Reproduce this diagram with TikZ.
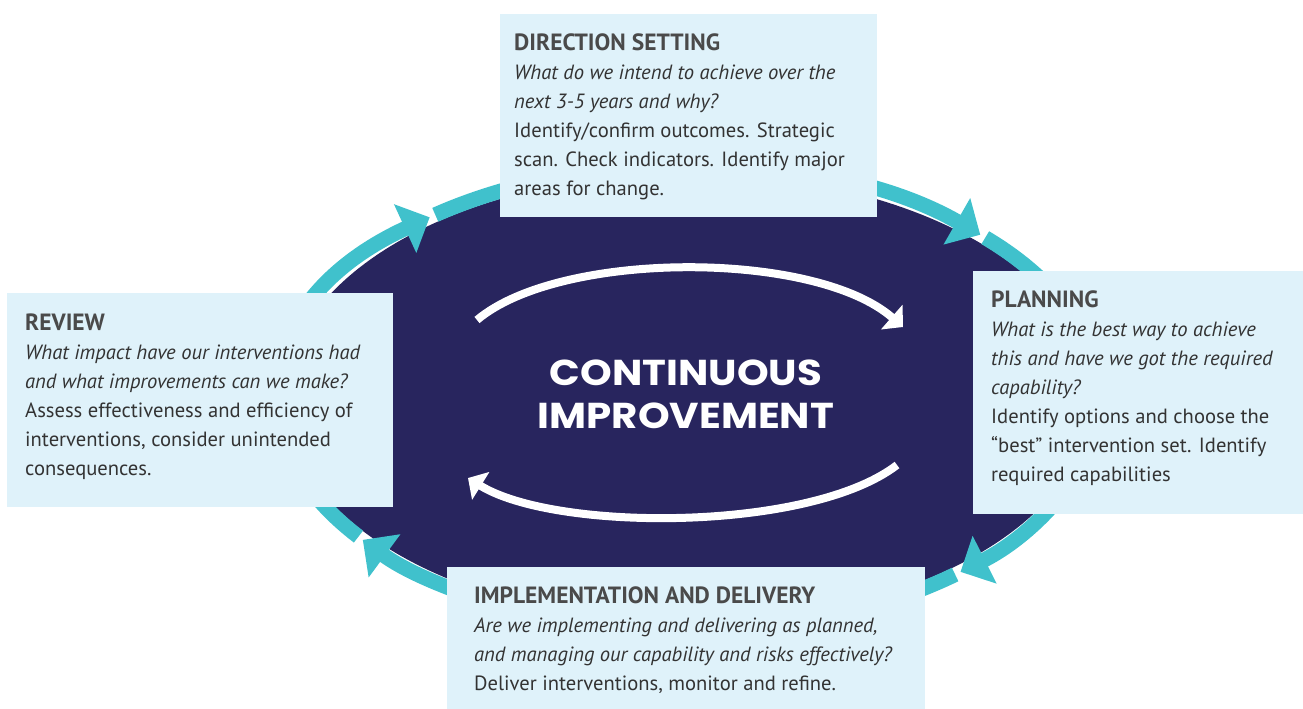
\documentclass[tikz,border=0pt]{standalone}
\usepackage{fontspec}
\setmainfont{PT Sans}
\newfontfamily\titlefont{Poppins}[FakeStretch=1.12]
\usetikzlibrary{arrows.meta,positioning}
\definecolor{navy}{RGB}{40,37,94}
\definecolor{ringcyan}{RGB}{64,193,204}
\definecolor{boxblue}{RGB}{223,242,250}
\definecolor{bodygray}{RGB}{51,51,51}
\definecolor{headgray}{RGB}{74,74,74}
\newcommand{\boxhead}[1]{{\fontsize{23.5}{29}\selectfont\bfseries\color{headgray}#1}}

\begin{document}
\begin{tikzpicture}[x=1pt,y=-1pt,
        band/.style={ringcyan,line width=15pt,-{Triangle[length=27pt,width=52pt]}},
        turn/.style={white,line width=8pt,-{Triangle[length=15pt,width=32pt]}},
        panel/.style={fill=boxblue,anchor=north west,inner sep=0pt},
        paneltext/.style={inner sep=0pt,align=left,text=bodygray,
            font=\fontsize{20.6}{29}\selectfont}]

    \useasboundingbox (0,0) rectangle (1303,709);

    \def\cx{688} \def\cy{398} \def\ra{410.5} \def\rb{232.5}

    \fill[navy] (\cx,\cy) ellipse [x radius=403pt, y radius=225pt];

    \foreach \ts/\te in {143.4/231, 232/315.4, 316.4/408.4, 49.4/142.4}
        \draw[band] ({\cx+\ra*cos(\ts)},{\cy+\rb*sin(\ts)})
            arc[start angle=-\ts, end angle=-\te, x radius=\ra pt, y radius=\rb pt];

    \coordinate (topstart) at (477,320);
    \coordinate (topend) at (903,327);
    \coordinate (botstart) at (897,465);
    \coordinate (botend) at (468,478);
    \draw[turn] (topstart) .. controls (560,250) and (815,250) .. (topend);
    \draw[turn] (botstart) .. controls (810,532) and (555,532) .. (botend);

    \node[white,align=center,font=\titlefont\fontsize{36}{43}\selectfont\bfseries]
        (title) at (686,394) {CONTINUOUS\\IMPROVEMENT};

    \node[panel,minimum width=377pt,minimum height=203pt] (dirbox) at (500,14) {};
    \node[panel,minimum width=386pt,minimum height=214pt] (revbox) at (7,293) {};
    \node[panel,minimum width=330pt,minimum height=243pt] (planbox) at (973,271) {};
    \node[panel,minimum width=478pt,minimum height=142pt] (impbox) at (447,567) {};

    \node[paneltext,below right=20pt and 14pt of dirbox.north west] (dirtxt)
        {\boxhead{DIRECTION SETTING}\\
         \textit{What do we intend to achieve over the}\\
         \textit{next 3-5 years and why?}\\
         Identify/confirm outcomes. Strategic\\
         scan. Check indicators. Identify major\\
         areas for change.};
    \node[paneltext,below right=21pt and 18pt of revbox.north west] (revtxt)
        {\boxhead{REVIEW}\\
         \textit{What impact have our interventions had}\\
         \textit{and what improvements can we make?}\\
         Assess effectiveness and efficiency of\\
         interventions, consider unintended\\
         consequences.};
    \node[paneltext,below right=20pt and 18pt of planbox.north west] (plantxt)
        {\boxhead{PLANNING}\\
         \textit{What is the best way to achieve}\\
         \textit{this and have we got the required}\\
         \textit{capability?}\\
         Identify options and choose the\\
         “best” intervention set. Identify\\
         required capabilities};
    \node[paneltext,below right=20pt and 27pt of impbox.north west] (imptxt)
        {\boxhead{IMPLEMENTATION AND DELIVERY}\\
         \textit{Are we implementing and delivering as planned,}\\
         \textit{and managing our capability and risks effectively?}\\
         Deliver interventions, monitor and refine.};

\end{tikzpicture}
\end{document}
